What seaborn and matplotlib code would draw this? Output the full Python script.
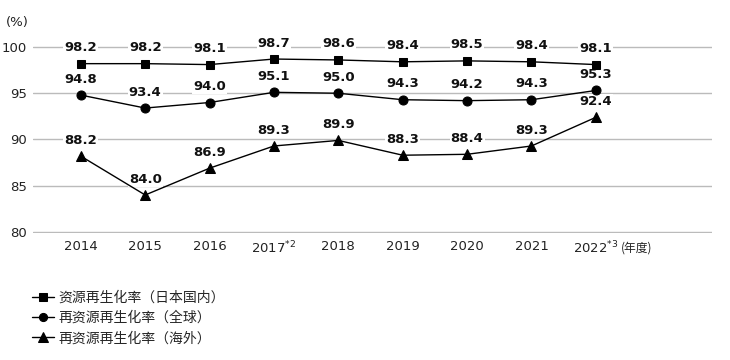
import numpy as np
import pandas as pd
import seaborn as sns
import matplotlib.pyplot as plt

years = ['2014', '2015', '2016', '2017$^{*2}$', '2018', '2019', '2020', '2021', '2022$^{*3}$']
japan = [98.2, 98.2, 98.1, 98.7, 98.6, 98.4, 98.5, 98.4, 98.1]
world = [94.8, 93.4, 94.0, 95.1, 95.0, 94.3, 94.2, 94.3, 95.3]
overseas = [88.2, 84.0, 86.9, 89.3, 89.9, 88.3, 88.4, 89.3, 92.4]
names = ['资源再生化率（日本国内）', '再资源再生化率（全球）', '再资源再生化率（海外）']
markers = ['s', 'o', '^']
msizes = [6, 6.5, 7.5]

sns.set_style('white')
plt.rcParams['font.family'] = ['Noto Sans CJK SC', 'DejaVu Sans']

rows = []
for name, vals in zip(names, [japan, world, overseas]):
    for i, v in enumerate(vals):
        rows.append({'x': i, 'value': v, 'series': name})
df = pd.DataFrame(rows)

fig = plt.figure(figsize=(7.3, 3.6), dpi=100)
ax = fig.add_axes([0.045, 0.353, 0.93, 0.519])

for name, m, ms in zip(names, markers, msizes):
    d = df[df['series'] == name]
    sns.lineplot(data=d, x='x', y='value', ax=ax, color='black', lw=1,
                 marker=m, markersize=ms, markeredgecolor='black', label=name, zorder=3)
    for x, v in zip(d['x'], d['value']):
        ax.annotate(f'{v:.1f}', (x, v), xytext=(0, 11.5), textcoords='offset points',
                    ha='center', va='center', fontsize=9.5, fontweight='bold',
                    color='#111111', family='DejaVu Sans', zorder=2,
                    bbox=dict(facecolor='white', edgecolor='none', pad=0.8))

ax.set_ylim(79.9, 100.1)
ax.set_xlim(-0.745, 9.8)
ax.set_yticks([80, 85, 90, 95, 100])
ax.set_xticks(range(len(years)))
ax.set_xticklabels(years)
ax.grid(axis='y', color='#bbbbbb', lw=1)
ax.set_axisbelow(True)
for s in ax.spines.values():
    s.set_visible(False)
ax.tick_params(axis='both', length=0, labelsize=9.5, colors='#222222')
ax.tick_params(axis='x', pad=5)
ax.tick_params(axis='y', pad=4)
for lab in ax.get_xticklabels() + ax.get_yticklabels():
    lab.set_family('DejaVu Sans')
ax.set_xlabel('')
ax.set_ylabel('')
ax.text(-0.039, 1.09, '(%)', transform=ax.transAxes, fontsize=9.5, color='#222222',
        ha='left', va='bottom', family='DejaVu Sans')
ax.annotate('(年度)', (8, 79.9), xytext=(18, -6), textcoords='offset points',
            ha='left', va='top', fontsize=8.5, color='#222222')

ax.legend(loc='upper left', bbox_to_anchor=(-0.01, -0.28), frameon=False,
          fontsize=10, handlelength=1.6, handletextpad=0.3, labelspacing=0.45,
          borderaxespad=0, markerscale=0.9)

fig.savefig('out.png', dpi=100)
